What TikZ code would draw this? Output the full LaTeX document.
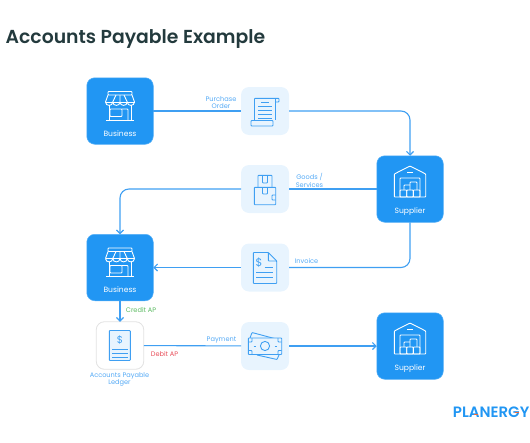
\documentclass[tikz,border=0pt]{standalone}
\usepackage{fontspec}
\usepackage{xcolor}
\usepackage{tikz}
\usetikzlibrary{arrows.meta, positioning, calc}
\setmainfont{Poppins}
\newfontfamily\titlefont{Poppins SemiBold}
\newfontfamily\logofont{Poppins SemiBold}
\definecolor{tileblue}{HTML}{2196F3}
\definecolor{softblue}{HTML}{E8F4FE}
\definecolor{lineblue}{HTML}{3F9FF2}
\definecolor{labelblue}{HTML}{55AAF5}
\definecolor{titledark}{HTML}{233A3D}
\definecolor{ledgeredge}{HTML}{E2E2E2}
\definecolor{creditgreen}{HTML}{5DBB63}
\definecolor{debitred}{HTML}{E8505B}
\definecolor{accentorange}{HTML}{F26B3A}

\begin{document}
\begin{tikzpicture}[
    x=1pt, y=-1pt,
    node distance=30pt,
    tile/.style={rectangle, fill=tileblue, draw=tileblue!75!white, line width=.5pt, rounded corners=8pt, minimum size=66.5pt, inner sep=0pt, outer sep=0pt},
    softtile/.style={rectangle, fill=softblue, rounded corners=8pt, minimum size=48pt, inner sep=0pt, outer sep=0pt},
    ledgertile/.style={rectangle, fill=white, draw=ledgeredge, line width=.8pt, rounded corners=8pt, minimum size=47.5pt, inner sep=0pt, outer sep=0pt},
    tilelabel/.style={font=\fontsize{7.6}{8}\selectfont, text=white, inner sep=0pt},
    steplabel/.style={font=\fontsize{6.6}{7.4}\selectfont, text=labelblue, inner sep=0pt, align=center},
    conn/.style={draw=lineblue, line width=1.1pt},
    arrow/.style={conn, -{Straight Barb[length=3.5pt, width=7pt]}},
    whiteline/.style={draw=white, line width=.9pt, rounded corners=.7pt},
    blueline/.style={draw=lineblue, line width=.9pt, rounded corners=.7pt},
    storeicon/.pic={
        \draw[whiteline] (-12,-19.5) rectangle (12,-16);
        \draw[whiteline] (-12,-16) -- (-14.5,-9) (12,-16) -- (14.5,-9);
        \draw[whiteline] (-14.5,-9) -- (14.5,-9);
        \foreach \xa/\xb in {-14.5/-7.25,-7.25/0,0/7.25,7.25/14.5}
            \draw[whiteline] (\xa,-9) .. controls (\xa,-4.5) and (\xb,-4.5) .. (\xb,-9);
        \draw[whiteline] (-4,-16) -- (-7.25,-9) (0,-16) -- (0,-9) (4,-16) -- (7.25,-9);
        \draw[whiteline] (-11,-6) -- (-11,9) (11,-6) -- (11,9);
        \draw[whiteline] (-14,9) -- (14,9);
        \draw[whiteline] (-10,-2) rectangle (2,5.5);
        \draw[whiteline] (2,-2) -- (8,-2) -- (8,9);
    },
    warehouseicon/.pic={
        \draw[whiteline] (-15.7,8) -- (-15.7,-15) -- (0,-23) -- (15.7,-15) -- (15.7,8) -- cycle;
        \draw[whiteline] (-10,8) -- (-10,-11) -- (10,-11) -- (10,8);
        \draw[whiteline] (-3,-17) -- (3,-17);
        \draw[whiteline] (-10,1) rectangle (-3.3,8);
        \draw[whiteline] (-3.3,1) rectangle (3.3,8);
        \draw[whiteline] (3.3,1) rectangle (10,8);
        \draw[whiteline] (-6,1) -- (-6,-4) -- (0,-4);
        \draw[whiteline] (0,1) -- (0,-7) -- (7,-7) -- (7,1);
    },
    scrollicon/.pic={
        \draw[blueline] (-10.5,9) -- (-10.5,-12.7) -- (14,-12.7) -- (14,-9) -- (10,-9);
        \draw[blueline] (10,-12.7) -- (10,9);
        \draw[blueline] (-14,9.5) rectangle (8,15);
        \draw[blueline] (-4,-8.5) -- (4,-8.5);
        \foreach \ya in {-4.5,-.5,3.5,7}
            \draw[blueline] (-7,\ya) -- (7,\ya);
    },
    boxicon/.pic={
        \draw[blueline] (-7,-1.7) -- (-7,-13.7) -- (7,-13.7) -- (7,-1.7);
        \draw[blueline] (-2.5,-13.7) -- (-2.5,-6) -- (2.5,-6) -- (2.5,-13.7);
        \draw[blueline] (-10.7,-1.7) rectangle (10.7,15.7);
        \draw[blueline] (-2.5,-1.7) -- (-2.5,5) -- (2.5,5) -- (2.5,-1.7);
        \draw[blueline] (10.7,6) -- (7,6) -- (7,11) -- (10.7,11);
    },
    invoiceicon/.pic={
        \draw[blueline] (-11.7,-15) -- (3.3,-15) -- (11.7,-6.5) -- (11.7,16) -- (-11.7,16) -- cycle;
        \draw[blueline] (3.3,-15) -- (3.3,-6.5) -- (11.7,-6.5);
        \node[font=\fontsize{11}{11}\selectfont, text=lineblue, inner sep=0pt] (dollarinv) at (-6,-5) {\$};
        \draw[blueline] (-.5,0) -- (8.3,0);
        \draw[blueline] (-9,5) -- (8.3,5);
        \draw[blueline] (-9,9.5) -- (8.3,9.5);
    },
    ledgericon/.pic={
        \draw[blueline, fill=softblue] (-10.7,-15) rectangle (10.3,15);
        \node[font=\fontsize{10}{10}\selectfont, text=lineblue, inner sep=0pt] (dollarled) at (0,-6) {\$};
        \foreach \ya in {4,8.3,12.3}
            \draw[blueline] (-7.7,\ya) -- (7.7,\ya);
    },
    cashicon/.pic={
        \draw[blueline] (-15,-8) -- (-13,-13.5) -- (15,-6);
        \draw[blueline] (-8,9) -- (12,13.5) -- (14,9);
        \draw[blueline, fill=softblue] (-16.7,-8) rectangle (16.7,8.5);
        \draw[blueline] (0,0) circle[radius=4.6];
        \draw[blueline] (-11.5,0) -- (-9.5,0) (9.5,0) -- (11.5,0);
        \draw[blueline] (-16.7,-4) -- (-13,-4) -- (-13,-8);
        \draw[blueline] (16.7,-4) -- (13,-4) -- (13,-8);
        \draw[blueline] (-16.7,4.5) -- (-13,4.5) -- (-13,8.5);
        \draw[blueline] (16.7,4.5) -- (13,4.5) -- (13,8.5);
    }
]
\useasboundingbox (0,0) rectangle (530,442);

\node[anchor=base west, inner sep=0pt, font=\titlefont\fontsize{18.8}{20}\selectfont, text=titledark] (title) at (5.5,43) {Accounts Payable Example};

% boxes
\node[tile] (bizA) at (120,111) {};
\node[softtile, right=87.75pt of bizA] (scroll) {};
\node[softtile, below=30pt of scroll] (goods) {};
\node[softtile, below=30.5pt of goods] (invoice) {};
\node[softtile, below=30.5pt of invoice] (cash) {};
\node[tile, right=87.75pt of goods] (supA) {};
\node[tile, right=87.75pt of cash] (supB) {};
\node[tile, left=87.75pt of invoice] (bizB) {};
\node[ledgertile, below=21pt of bizB] (ledger) {};

% icons
\pic at (bizA) {storeicon};
\pic at (bizB) {storeicon};
\pic at (supA) {warehouseicon};
\pic at (supB) {warehouseicon};
\pic at (scroll) {scrollicon};
\pic at (goods) {boxicon};
\pic at (invoice) {invoiceicon};
\pic at (ledger) {ledgericon};
\pic at (cash) {cashicon};

% labels
\node[tilelabel] (bizAname) at ($(bizA)+(0,22.3)$) {Business};
\node[tilelabel] (bizBname) at ($(bizB)+(0,22.3)$) {Business};
\node[tilelabel] (supAname) at ($(supA)+(0,22.3)$) {Supplier};
\node[tilelabel] (supBname) at ($(supB)+(0,22.3)$) {Supplier};
\node[steplabel] (polabel) at (221,102.5) {Purchase\\Order};
\node[steplabel] (goodslabel) at (309.5,180.5) {Goods /\\Services};
\node[steplabel] (invlabel) at (306.5,261) {Invoice};
\node[steplabel] (paylabel) at (221.5,340) {Payment};
\node[steplabel, text=creditgreen] (creditlabel) at (141,310.5) {Credit AP};
\node[steplabel, text=debitred] (debitlabel) at (164.5,354.5) {Debit AP};
\node[steplabel] (ledgerlabel) at (119.5,379.5) {Accounts Payable\\Ledger};

% flow
\draw[conn] (bizA) -- (scroll);
\draw[arrow, rounded corners=9pt] (scroll) -| (supA);
\draw[conn] (supA) -- (goods);
\draw[arrow, rounded corners=9pt] (goods) -| (bizB);
\draw[conn, rounded corners=9pt] (supA) |- (invoice);
\draw[arrow] (invoice) -- (bizB);
\draw[arrow] (bizB) -- (ledger);
\draw[conn] (ledger) -- (cash);
\draw[arrow] (cash) -- (supB);

% logo
\node[anchor=base east, inner sep=0pt, font=\logofont\fontsize{15}{15}\selectfont, text=tileblue] (logo) at (529.5,417.3) {PLANERGY};
\draw[accentorange, line width=1pt] (474,414) -- (477.5,414);
\draw[accentorange, line width=1pt] (514.5,412) -- (518.5,412);
\end{tikzpicture}
\end{document}
